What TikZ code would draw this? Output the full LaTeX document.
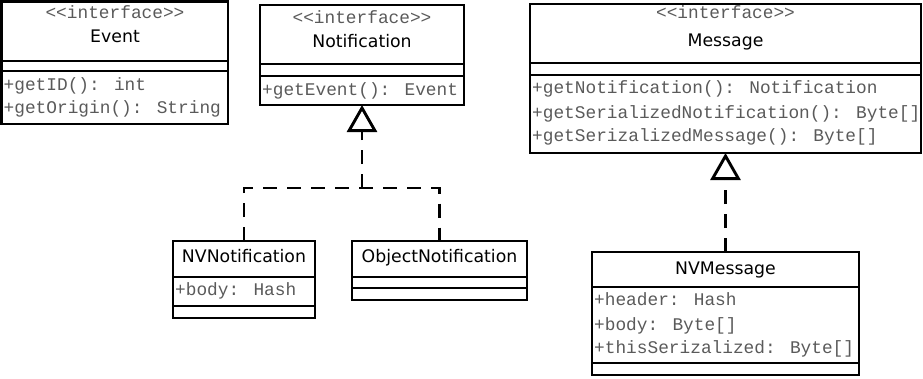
\documentclass[tikz,border=0pt]{standalone}
\usepackage{fontspec}
\setmainfont{DejaVu Sans}
\newfontfamily\umlmono{Liberation Mono}
\usetikzlibrary{arrows.meta}
\definecolor{membergray}{HTML}{5A5A5A}

\begin{document}
\begin{tikzpicture}[x=1pt,y=-1pt,
  umlbox/.style={draw, line width=2.9pt, inner sep=0pt, outer sep=0pt, anchor=north west},
  sepline/.style={line width=2.9pt},
  stereo/.style={font=\umlmono\fontsize{17.8}{20}\selectfont, text=membergray, inner sep=0pt, text height=11pt, text depth=3.5pt},
  classname/.style={font=\fontsize{17.3}{20}\selectfont, inner sep=0pt, text height=12.5pt, text depth=3.5pt},
  member/.style={font=\umlmono\fontsize{17.8}{20}\selectfont, text=membergray, inner sep=0pt, anchor=west, text height=11pt, text depth=3.5pt},
  realize/.style={line width=2.9pt, dash pattern=on 14pt off 10pt},
  generalize/.style={realize, -{Triangle[open, length=27pt, width=30pt]}}
]
\useasboundingbox (0,0) rectangle (923,378);

% ---- class boxes ----
\node[umlbox, minimum width=226.5pt, minimum height=122.5pt] (event) at (1.5,1.5) {};
\node[umlbox, minimum width=204pt, minimum height=100pt] (notif) at (260,5) {};
\node[umlbox, minimum width=391pt, minimum height=149pt] (msg) at (530,4) {};
\node[umlbox, minimum width=142pt, minimum height=77pt] (nvn) at (173,241) {};
\node[umlbox, minimum width=175pt, minimum height=59pt] (obj) at (352,241) {};
\node[umlbox, minimum width=267pt, minimum height=123pt] (nvm) at (592,252) {};

% ---- compartment separators ----
\draw[sepline] (event.west |- 0,61) -- (event.east |- 0,61);
\draw[sepline] (event.west |- 0,71) -- (event.east |- 0,71);
\draw[sepline] (notif.west |- 0,64) -- (notif.east |- 0,64);
\draw[sepline] (notif.west |- 0,76) -- (notif.east |- 0,76);
\draw[sepline] (msg.west |- 0,63) -- (msg.east |- 0,63);
\draw[sepline] (msg.west |- 0,75) -- (msg.east |- 0,75);
\draw[sepline] (nvn.west |- 0,277) -- (nvn.east |- 0,277);
\draw[sepline] (nvn.west |- 0,306) -- (nvn.east |- 0,306);
\draw[sepline] (obj.west |- 0,277) -- (obj.east |- 0,277);
\draw[sepline] (obj.west |- 0,288) -- (obj.east |- 0,288);
\draw[sepline] (nvm.west |- 0,287) -- (nvm.east |- 0,287);
\draw[sepline] (nvm.west |- 0,363) -- (nvm.east |- 0,363);

% ---- Event ----
\node[stereo] (eventst) at (115,15) {<<interface>>};
\node[classname] (eventnm) at (115,38) {Event};
\node[member] (eventm1) at (3.5,87) {+getID(): int};
\node[member] (eventm2) at (3.5,110) {+getOrigin(): String};

% ---- Notification ----
\node[stereo] (notifst) at (362,20) {<<interface>>};
\node[classname] (notifnm) at (362,43) {Notification};
\node[member] (notifm1) at (262,92) {+getEvent(): Event};

% ---- Message ----
\node[stereo] (msgst) at (725.5,15) {<<interface>>};
\node[classname] (msgnm) at (725.5,42) {Message};
\node[member] (msgm1) at (532,90) {+getNotification(): Notification};
\node[member] (msgm2) at (532,115) {+getSerializedNotification(): Byte[]};
\node[member] (msgm3) at (532,138) {+getSerizalizedMessage(): Byte[]};

% ---- NVNotification ----
\node[classname] (nvnnm) at (244,258) {NVNotification};
\node[member] (nvnm1) at (175,292) {+body: Hash};

% ---- ObjectNotification ----
\node[classname] (objnm) at (439.5,258) {ObjectNotification};

% ---- NVMessage ----
\node[classname] (nvmnm) at (725.5,270) {NVMessage};
\node[member] (nvmm1) at (594,302) {+header: Hash};
\node[member] (nvmm2) at (594,327) {+body: Byte[]};
\node[member] (nvmm3) at (594,350) {+thisSerizalized: Byte[]};

% ---- realizations ----
\coordinate (j1) at (362,188);
\draw[realize] (nvn.north) |- (j1) -| (obj.north);
\draw[generalize] (j1) -- (notif.south);
\draw[generalize] (nvm.north) -- (msg.south);
\end{tikzpicture}
\end{document}
